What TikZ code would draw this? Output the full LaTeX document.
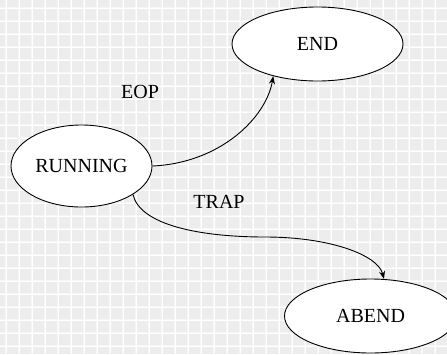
\documentclass[tikz,border=0pt]{standalone}
\usepackage{fontspec}
\setmainfont{Liberation Serif}
\usetikzlibrary{shapes.geometric,arrows.meta}
\definecolor{bggray}{RGB}{237,237,237}
\definecolor{bgline}{RGB}{246,246,246}
\begin{document}
\begin{tikzpicture}[x=1pt,y=-1pt,
  state/.style={draw=black,line width=0.9pt,fill=white,ellipse,inner sep=0pt,
    font=\fontsize{20}{24}\selectfont},
  lbl/.style={font=\fontsize{20}{24}\selectfont,inner sep=0pt},
  trans/.style={draw=black,line width=0.9pt,-{Stealth[length=8pt,width=6pt]}}]
  % canvas with a light plaid grid
  \useasboundingbox (0,0) rectangle (447,354);
  \fill[bggray] (0,0) rectangle (447,354);
  \foreach \x in {0,13,...,447}
    \draw[bgline,line width=2pt] (\x+6,0) -- (\x+6,354);
  \foreach \y in {0,13,...,354}
    \draw[bgline,line width=2pt] (0,\y+8) -- (447,\y+8);
  \foreach \x in {0,13,...,447}
    \draw[white,line width=0.7pt] (\x+6,0) -- (\x+6,354);
  \foreach \y in {0,13,...,354}
    \draw[white,line width=0.7pt] (0,\y+8) -- (447,\y+8);
  \begin{scope}
    \clip (0,0) rectangle (447,354);
    % states
    \node[state,minimum width=141pt,minimum height=82pt] (run) at (81.5,166) {RUNNING};
    \node[state,minimum width=171pt,minimum height=74pt] (end) at (317.5,44) {END};
    \node[state,minimum width=172pt,minimum height=74pt] (abend) at (370.5,316) {ABEND};
    % transitions
    \draw[trans] (run.east) .. controls (220,163) and (266,118) .. (end.216);
    \draw[trans] (run.331) .. controls (140,225) and (200,237) .. (265,237)
      .. controls (330,237) and (378,255) .. (abend.70);
  \end{scope}
  % labels
  \node[lbl] (eop) at (140,92) {EOP};
  \node[lbl] (trap) at (219,202) {TRAP};
\end{tikzpicture}
\end{document}
